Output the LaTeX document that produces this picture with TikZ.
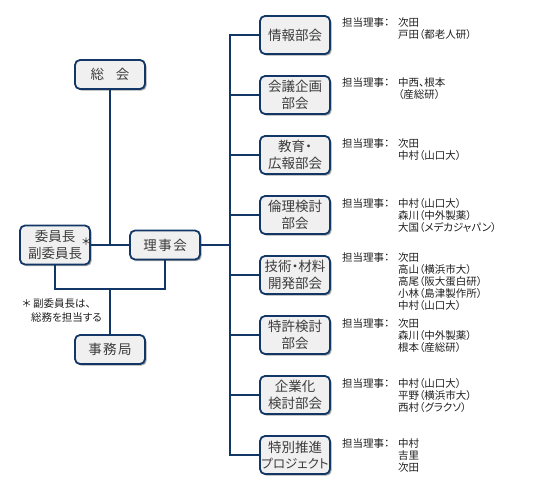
\documentclass[tikz,border=0pt]{standalone}
\usepackage{fontspec}
\newfontfamily\jp[RawFeature=+palt]{Noto Sans CJK JP}
\usetikzlibrary{shadows}
\definecolor{navy}{RGB}{18,54,102}
\definecolor{boxfill}{RGB}{240,240,240}
\definecolor{boxtext}{RGB}{60,60,60}
\definecolor{lbltext}{RGB}{30,30,30}
\tikzset{
  box/.style={draw=navy, line width=1.8pt, fill=boxfill, rounded corners=5pt,
    minimum width=70pt, inner sep=0pt, align=center, text=boxtext,
    font=\jp\fontsize{13.5}{16.5}\selectfont,
    drop shadow={shadow xshift=1.6pt, shadow yshift=-1.6pt, fill=black, opacity=0.35}},
  sbox/.style={box, minimum height=29pt},
  rbox/.style={box, minimum height=38pt},
  conn/.style={draw=navy, line width=1.8pt},
  lbl/.style={inner sep=0pt, text=lbltext, font=\jp\fontsize{10.5}{12}\selectfont, anchor=base west},
}
\newcommand\members[3]{%
  \node[lbl] (#1h) at (342,#2) {担当理事：};
  \foreach \t [count=\i] in {#3} {\node[lbl] (#1-\i) at (398,{#2+12*(\i-1)}) {\t};}
}
\begin{document}
\begin{tikzpicture}[x=1pt,y=-1pt]
\useasboundingbox (0,0) rectangle (537,500);
% left side
\node[sbox] (soukai) at (110,74.5) {総\hspace{12pt}会};
\node[box, minimum height=39pt] (iin) at (55,245) {委員長\\副委員長};
\node[sbox] (riji) at (165,245) {理\hspace{1.5pt}事\hspace{1.5pt}会};
\node[sbox] (jimu) at (110,349.5) {事\hspace{1.5pt}務\hspace{1.5pt}局};
\node[inner sep=0pt, text=lbltext, font=\jp\fontsize{10}{12}\selectfont] (ast) at (86,242) {＊};
\node[lbl] (note1) at (22,307) {＊ 副委員長は、};
\node[lbl] (note2) at (31,321) {総務を担当する};
% right boxes
\node[rbox] (b1) at (295,35) {情報部会};
\node[rbox] (b2) at (295,95) {会議企画\\部会};
\node[rbox] (b3) at (295,155) {教育・\\広報部会};
\node[rbox] (b4) at (295,215) {倫理検討\\部会};
\node[rbox] (b5) at (295,275) {技術・材料\\開発部会};
\node[rbox] (b6) at (295,335) {特許検討\\部会};
\node[rbox] (b7) at (295,395) {企業化\\検討部会};
\node[rbox] (b8) at (295,455) {特別推進\\{\fontsize{12.5}{15}\selectfont プロジェクト}};
% connectors
\coordinate (bus) at (230,245);
\coordinate (j) at (110,289);
\draw[conn] (soukai.south) -- (soukai.south |- riji.west);
\draw[conn] (iin.east) -- (riji.west);
\draw[conn] (riji.east) -- (bus);
\draw[conn] (iin.south) -- (iin.south |- j) -- (riji.south |- j) -- (riji.south);
\draw[conn] (j) -- (jimu.north);
\draw[conn] (b1.west) -- (b1.west -| bus) -- (b8.west -| bus) -- (b8.west);
\foreach \k in {2,...,7} {\draw[conn] (b\k.west) -- (b\k.west -| bus);}
% members
\members{m1}{27}{次田,戸田（都老人研）}
\members{m2}{87}{中西、根本,（産総研）}
\members{m3}{147}{次田,中村（山口大）}
\members{m4}{207}{中村（山口大）,森川（中外製薬）,大国（メデカジャパン）}
\members{m5}{261}{次田,高山（横浜市大）,高尾（阪大蛋白研）,小林（島津製作所）,中村（山口大）}
\members{m6}{327}{次田,森川（中外製薬）,根本（産総研）}
\members{m7}{387}{中村（山口大）,平野（横浜市大）,西村（グラクソ）}
\members{m8}{447}{中村,吉里,次田}
\end{tikzpicture}
\end{document}
